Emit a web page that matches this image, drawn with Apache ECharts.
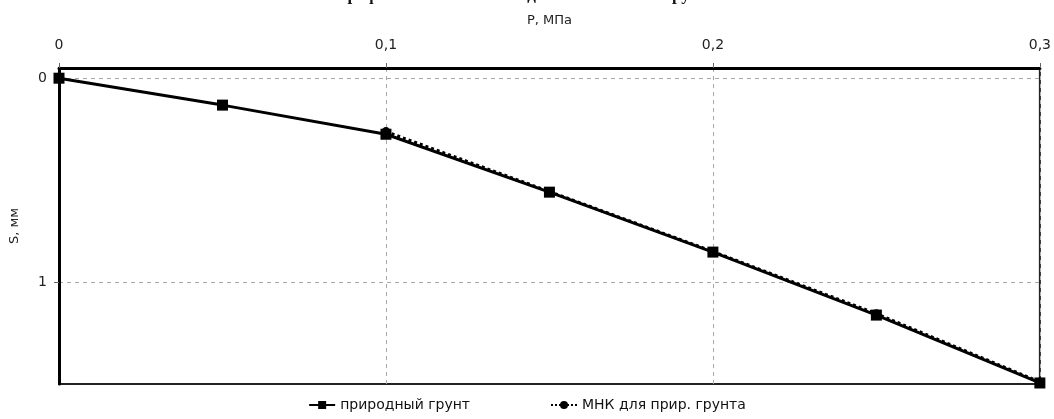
<!DOCTYPE html>
<html>
<head>
    <meta charset="utf-8">
    <title>Осадка штампа</title>
    <script src="https://cdn.jsdelivr.net/npm/echarts@6/dist/echarts.min.js"></script>
    <style type="text/css">
        html, body { margin: 0; padding: 0; background: #fff; }
        #chart { width: 1054px; height: 419px; }
    </style>
</head>
<body>
<div id="chart"></div>
<script>
    // нагрузка P, МПа
    var pressure = [0, 0.05, 0.1, 0.15, 0.2, 0.25, 0.3];
    // осадка S, мм - природный грунт
    var settleNatural = [0, 0.132, 0.275, 0.559, 0.853, 1.162, 1.495];
    // МНК для природного грунта
    var pressureFit = [0.1, 0.15, 0.2, 0.25, 0.3];
    var settleFit = [0.262, 0.556, 0.850, 1.155, 1.49];
    var yTicks = [0, 1];

    function pairs(xs, ys) {
        var out = [];
        for (var i = 0; i < xs.length; i++) {
            out.push([xs[i], ys[i]]);
        }
        return out;
    }

    var chart = echarts.init(document.getElementById('chart'));
    var font = 'Tahoma, "DejaVu Sans", sans-serif';

    var option = {
        animation: false,
        title: {
            text: 'График зависимости осадки штампа от нагрузки',
            left: 'center',
            top: -18,
            textStyle: {fontFamily: 'serif', fontSize: 17, fontWeight: 'bold', color: '#111'}
        },
        grid: {
            left: 58, right: 11, top: 68, bottom: 35,
            show: true, borderColor: '#222', borderWidth: 2, backgroundColor: '#fff'
        },
        legend: {
            bottom: 2,
            left: 'center',
            itemGap: 80,
            itemWidth: 26,
            itemHeight: 10,
            textStyle: {fontFamily: font, fontSize: 14, color: '#111'},
            data: ['природный грунт', 'МНК для прир. грунта']
        },
        xAxis: {
            type: 'value',
            position: 'top',
            min: 0, max: 0.3, interval: 0.1,
            name: 'P, МПа',
            nameLocation: 'middle',
            nameGap: 41,
            nameTextStyle: {fontFamily: font, fontSize: 13, color: '#222'},
            axisLine: {show: true, onZero: false, lineStyle: {color: '#000', width: 3}},
            axisTick: {show: true, length: 5, lineStyle: {color: '#666'}},
            axisLabel: {
                fontFamily: font, fontSize: 14, color: '#222', margin: 16,
                formatter: function (v) { return String(v).replace('.', ','); }
            },
            splitLine: {show: true, lineStyle: {color: '#aaa', type: [4, 4], width: 1}}
        },
        yAxis: {
            type: 'value',
            inverse: true,
            min: -0.05, max: 1.5,
            name: 'S, мм',
            nameLocation: 'middle',
            nameGap: 38,
            nameRotate: 90,
            nameTextStyle: {fontFamily: font, fontSize: 13, color: '#222'},
            axisLine: {show: true, onZero: false, lineStyle: {color: '#000', width: 3}},
            axisTick: {show: true, length: 5, customValues: yTicks, lineStyle: {color: '#666'}},
            axisLabel: {fontFamily: font, fontSize: 14, color: '#222', margin: 12, customValues: yTicks},
            splitLine: {show: true, lineStyle: {color: '#aaa', type: [4, 4], width: 1}}
        },
        series: [
            {
                name: 'МНК для прир. грунта',
                type: 'line',
                data: pairs(pressureFit, settleFit),
                symbol: 'circle',
                symbolSize: 9,
                itemStyle: {color: '#000'},
                lineStyle: {color: '#000', width: 3, type: 'dotted'},
                z: 2
            },
            {
                name: 'природный грунт',
                type: 'line',
                data: pairs(pressure, settleNatural),
                symbol: 'rect',
                symbolSize: 11,
                itemStyle: {color: '#000'},
                lineStyle: {color: '#000', width: 3},
                z: 3
            }
        ]
    };
    chart.setOption(option);
</script>
</body>
</html>
